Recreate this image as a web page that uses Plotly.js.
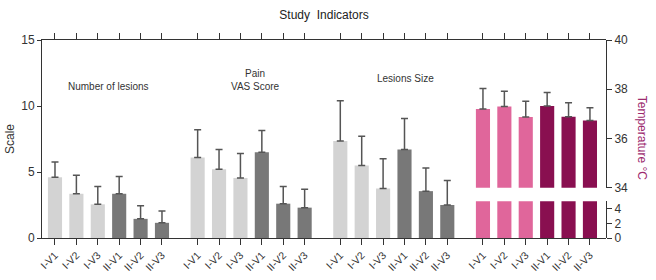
<!DOCTYPE html>
<html>
<head>
<meta charset="utf-8">
<script src="https://cdn.plot.ly/plotly-3.0.1.min.js"></script>
<style>
  html, body { margin: 0; padding: 0; background: #fff; }
  #chart { width: 656px; height: 280px; }
</style>
</head>
<body>
<div id="chart"></div>
<script>
// Visit labels, shared by every indicator group
const visits = ['I-V1', 'I-V2', 'I-V3', 'II-V1', 'II-V2', 'II-V3'];

// Mean and SD per visit for each indicator
const lesionCount   = [4.6, 3.35, 2.55, 3.35, 1.45, 1.15];
const lesionCountSD = [1.15, 1.4, 1.35, 1.3, 1.0, 0.9];

const painVAS   = [6.1, 5.2, 4.55, 6.5, 2.6, 2.3];
const painVASSD = [2.1, 1.5, 1.85, 1.65, 1.3, 1.4];

const lesionSize   = [7.35, 5.5, 3.75, 6.7, 3.55, 2.5];
const lesionSizeSD = [3.05, 2.2, 2.25, 2.35, 1.75, 1.85];

const temperature   = [37.2, 37.3, 36.87, 37.32, 36.88, 36.73];
const temperatureSD = [0.83, 0.62, 0.64, 0.55, 0.57, 0.52];

// Colours for group I / group II
const grayColors = ['#d3d3d3', '#d3d3d3', '#d3d3d3', '#787878', '#787878', '#787878'];
const tempColors = ['#e0669b', '#e0669b', '#e0669b', '#890f50', '#890f50', '#890f50'];

const FONT = '"Liberation Sans Narrow", "Arial Narrow", Arial, sans-serif';
const groupStep = 6 + 2 / 3;   // six bars plus a gap between indicator groups
const barWidth = 0.66;

function positions(g) {
  return visits.map((_, i) => g * groupStep + i);
}

const errStyle = (sd) => ({
  type: 'data', symmetric: false, array: sd, arrayminus: sd.map(() => 0),
  color: '#555', thickness: 1.5, width: 3.5
});

const traces = [
  { type: 'bar', x: positions(0), y: lesionCount, width: barWidth,
    marker: { color: grayColors }, error_y: errStyle(lesionCountSD), hoverinfo: 'skip' },
  { type: 'bar', x: positions(1), y: painVAS, width: barWidth,
    marker: { color: grayColors }, error_y: errStyle(painVASSD), hoverinfo: 'skip' },
  { type: 'bar', x: positions(2), y: lesionSize, width: barWidth,
    marker: { color: grayColors }, error_y: errStyle(lesionSizeSD), hoverinfo: 'skip' },
  // temperature, upper segment of the broken axis
  { type: 'bar', x: positions(3), y: temperature, width: barWidth, xaxis: 'x', yaxis: 'y2',
    marker: { color: tempColors }, error_y: errStyle(temperatureSD), hoverinfo: 'skip' },
  // temperature, lower segment of the broken axis
  { type: 'bar', x: positions(3), y: temperature, width: barWidth, xaxis: 'x', yaxis: 'y3',
    marker: { color: tempColors }, hoverinfo: 'skip' }
];

const allX = [0, 1, 2, 3].flatMap(positions);
const allText = [0, 1, 2, 3].flatMap(() => visits);

const axisCommon = {
  showline: true, linecolor: '#333', linewidth: 1,
  ticks: 'outside', ticklen: 5, tickcolor: '#333', tickwidth: 1,
  showgrid: false, zeroline: false,
  tickfont: { family: FONT, size: 12, color: '#333' }
};

const layout = {
  width: 656, height: 280,
  margin: { l: 42, r: 50, t: 40, b: 41.5 },
  paper_bgcolor: '#fff', plot_bgcolor: 'rgba(0,0,0,0)',
  showlegend: false, barmode: 'overlay',
  font: { family: FONT, color: '#333' },
  title: {
    text: 'Study  Indicators', xref: 'container', x: 0.494, xanchor: 'center',
    yref: 'container', y: 0.946, yanchor: 'middle',
    font: { family: FONT, size: 12, color: '#222' }
  },
  xaxis: Object.assign({}, axisCommon, {
    range: [-0.607, 25.75], mirror: 'ticks', ticklen: 6,
    tickmode: 'array', tickvals: allX, ticktext: allText, tickangle: -45,
    tickfont: { family: FONT, size: 10.5, color: '#333' }
  }),
  yaxis: Object.assign({}, axisCommon, {
    range: [0, 15], tickvals: [0, 5, 10, 15], ticklen: 4,
    title: { text: 'Scale', standoff: 4, font: { family: FONT, size: 12, color: '#333' } },
    tickfont: { family: FONT, size: 12, color: '#333' }
  }),
  yaxis2: Object.assign({}, axisCommon, {
    domain: [0.254, 1], anchor: 'x', side: 'right',
    range: [34, 40], tickvals: [34, 36, 38, 40]
  }),
  yaxis3: Object.assign({}, axisCommon, {
    domain: [0, 0.185], anchor: 'x', side: 'right',
    range: [0, 5], tickvals: [0, 2, 4]
  }),
  annotations: [
    { text: 'Number of lesions', x: 2.5, y: 11.5, xref: 'x', yref: 'y', showarrow: false,
      xanchor: 'center', font: { family: FONT, size: 10, color: '#333' } },
    { text: 'Pain<br>VAS Score', x: 9.35, y: 12.0, xref: 'x', yref: 'y', showarrow: false,
      xanchor: 'center', font: { family: FONT, size: 10, color: '#333' } },
    { text: 'Lesions Size', x: 16.4, y: 12.05, xref: 'x', yref: 'y', showarrow: false,
      xanchor: 'center', font: { family: FONT, size: 10, color: '#333' } },
    { text: 'Temperature °C', x: 1.064, y: 0.506, xref: 'paper', yref: 'paper',
      xanchor: 'center', yanchor: 'middle', showarrow: false, textangle: 90,
      font: { family: FONT, size: 12, color: '#9c2a6e' } }
  ]
};

Plotly.newPlot('chart', traces, layout, { staticPlot: true, displayModeBar: false });
</script>
</body>
</html>
